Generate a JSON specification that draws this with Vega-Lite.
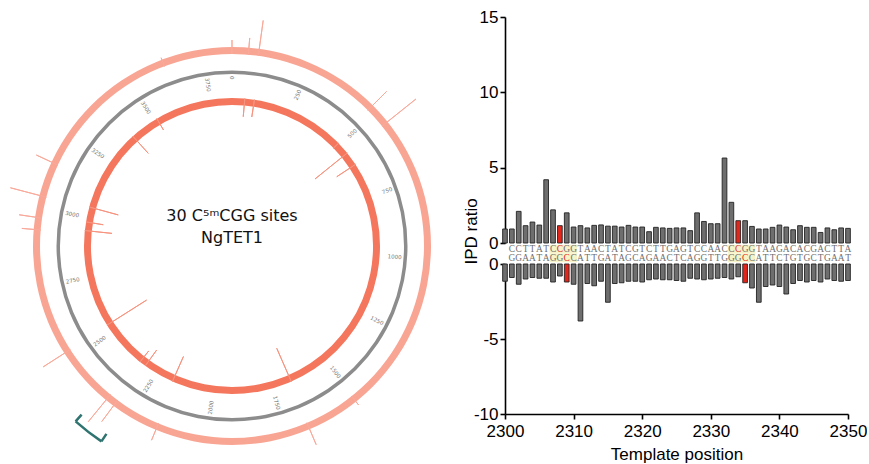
{
  "$schema": "https://vega.github.io/schema/vega-lite/v6.json",
  "padding": {"left": 8, "top": 8, "right": 0, "bottom": 2},
  "bounds": "flush",
  "spacing": 50,
  "config": {
    "view": {"stroke": null},
    "axis": {"domainColor": "#000", "domainWidth": 1.6, "tickColor": "#000", "tickWidth": 1.6, "tickSize": 5, "labelFont": "Liberation Sans", "labelFontSize": 17, "labelColor": "#000", "titleFont": "Liberation Sans", "titleFontSize": 17, "titleFontWeight": "normal", "titleColor": "#000", "grid": false, "labelPadding": 2}
  },
  "datasets": {
    "ipd": [
      {"pos":2300,"strand":"top","ipd":0.93,"base":"","kind":"n"},
      {"pos":2301,"strand":"top","ipd":0.93,"base":"C","kind":"n"},
      {"pos":2302,"strand":"top","ipd":2.1,"base":"C","kind":"n"},
      {"pos":2303,"strand":"top","ipd":1.15,"base":"T","kind":"n"},
      {"pos":2304,"strand":"top","ipd":1.39,"base":"T","kind":"n"},
      {"pos":2305,"strand":"top","ipd":1.19,"base":"A","kind":"n"},
      {"pos":2306,"strand":"top","ipd":4.2,"base":"T","kind":"n"},
      {"pos":2307,"strand":"top","ipd":2.2,"base":"C","kind":"s"},
      {"pos":2308,"strand":"top","ipd":1.15,"base":"C","kind":"m"},
      {"pos":2309,"strand":"top","ipd":2.0,"base":"G","kind":"s"},
      {"pos":2310,"strand":"top","ipd":1.06,"base":"G","kind":"s"},
      {"pos":2311,"strand":"top","ipd":1.15,"base":"T","kind":"n"},
      {"pos":2312,"strand":"top","ipd":1.0,"base":"A","kind":"n"},
      {"pos":2313,"strand":"top","ipd":1.17,"base":"A","kind":"n"},
      {"pos":2314,"strand":"top","ipd":1.2,"base":"C","kind":"n"},
      {"pos":2315,"strand":"top","ipd":1.12,"base":"T","kind":"n"},
      {"pos":2316,"strand":"top","ipd":1.12,"base":"A","kind":"n"},
      {"pos":2317,"strand":"top","ipd":1.06,"base":"T","kind":"n"},
      {"pos":2318,"strand":"top","ipd":1.17,"base":"C","kind":"n"},
      {"pos":2319,"strand":"top","ipd":1.06,"base":"G","kind":"n"},
      {"pos":2320,"strand":"top","ipd":1.06,"base":"T","kind":"n"},
      {"pos":2321,"strand":"top","ipd":0.75,"base":"C","kind":"n"},
      {"pos":2322,"strand":"top","ipd":1.04,"base":"T","kind":"n"},
      {"pos":2323,"strand":"top","ipd":1.0,"base":"T","kind":"n"},
      {"pos":2324,"strand":"top","ipd":0.97,"base":"G","kind":"n"},
      {"pos":2325,"strand":"top","ipd":1.0,"base":"A","kind":"n"},
      {"pos":2326,"strand":"top","ipd":1.0,"base":"G","kind":"n"},
      {"pos":2327,"strand":"top","ipd":0.82,"base":"T","kind":"n"},
      {"pos":2328,"strand":"top","ipd":2.0,"base":"C","kind":"n"},
      {"pos":2329,"strand":"top","ipd":1.43,"base":"C","kind":"n"},
      {"pos":2330,"strand":"top","ipd":1.28,"base":"A","kind":"n"},
      {"pos":2331,"strand":"top","ipd":1.28,"base":"A","kind":"n"},
      {"pos":2332,"strand":"top","ipd":5.64,"base":"C","kind":"n"},
      {"pos":2333,"strand":"top","ipd":2.7,"base":"C","kind":"s"},
      {"pos":2334,"strand":"top","ipd":1.48,"base":"C","kind":"m"},
      {"pos":2335,"strand":"top","ipd":1.48,"base":"G","kind":"s"},
      {"pos":2336,"strand":"top","ipd":1.1,"base":"G","kind":"s"},
      {"pos":2337,"strand":"top","ipd":0.93,"base":"T","kind":"n"},
      {"pos":2338,"strand":"top","ipd":0.93,"base":"A","kind":"n"},
      {"pos":2339,"strand":"top","ipd":1.04,"base":"A","kind":"n"},
      {"pos":2340,"strand":"top","ipd":1.19,"base":"G","kind":"n"},
      {"pos":2341,"strand":"top","ipd":1.06,"base":"A","kind":"n"},
      {"pos":2342,"strand":"top","ipd":0.88,"base":"C","kind":"n"},
      {"pos":2343,"strand":"top","ipd":1.15,"base":"A","kind":"n"},
      {"pos":2344,"strand":"top","ipd":1.04,"base":"C","kind":"n"},
      {"pos":2345,"strand":"top","ipd":1.04,"base":"G","kind":"n"},
      {"pos":2346,"strand":"top","ipd":0.7,"base":"A","kind":"n"},
      {"pos":2347,"strand":"top","ipd":1.0,"base":"C","kind":"n"},
      {"pos":2348,"strand":"top","ipd":0.88,"base":"T","kind":"n"},
      {"pos":2349,"strand":"top","ipd":1.0,"base":"T","kind":"n"},
      {"pos":2350,"strand":"top","ipd":0.97,"base":"A","kind":"n"},
      {"pos":2300,"strand":"bottom","ipd":-1.15,"base":"","kind":"n"},
      {"pos":2301,"strand":"bottom","ipd":-0.9,"base":"G","kind":"n"},
      {"pos":2302,"strand":"bottom","ipd":-1.35,"base":"G","kind":"n"},
      {"pos":2303,"strand":"bottom","ipd":-1.0,"base":"A","kind":"n"},
      {"pos":2304,"strand":"bottom","ipd":-0.9,"base":"A","kind":"n"},
      {"pos":2305,"strand":"bottom","ipd":-0.95,"base":"T","kind":"n"},
      {"pos":2306,"strand":"bottom","ipd":-0.95,"base":"A","kind":"n"},
      {"pos":2307,"strand":"bottom","ipd":-1.2,"base":"G","kind":"s"},
      {"pos":2308,"strand":"bottom","ipd":-0.8,"base":"G","kind":"s"},
      {"pos":2309,"strand":"bottom","ipd":-1.2,"base":"C","kind":"m"},
      {"pos":2310,"strand":"bottom","ipd":-1.35,"base":"C","kind":"s"},
      {"pos":2311,"strand":"bottom","ipd":-3.8,"base":"A","kind":"n"},
      {"pos":2312,"strand":"bottom","ipd":-1.3,"base":"T","kind":"n"},
      {"pos":2313,"strand":"bottom","ipd":-1.45,"base":"T","kind":"n"},
      {"pos":2314,"strand":"bottom","ipd":-1.15,"base":"G","kind":"n"},
      {"pos":2315,"strand":"bottom","ipd":-2.55,"base":"A","kind":"n"},
      {"pos":2316,"strand":"bottom","ipd":-1.3,"base":"T","kind":"n"},
      {"pos":2317,"strand":"bottom","ipd":-1.25,"base":"A","kind":"n"},
      {"pos":2318,"strand":"bottom","ipd":-1.15,"base":"G","kind":"n"},
      {"pos":2319,"strand":"bottom","ipd":-1.15,"base":"C","kind":"n"},
      {"pos":2320,"strand":"bottom","ipd":-1.2,"base":"A","kind":"n"},
      {"pos":2321,"strand":"bottom","ipd":-1.05,"base":"G","kind":"n"},
      {"pos":2322,"strand":"bottom","ipd":-1.0,"base":"A","kind":"n"},
      {"pos":2323,"strand":"bottom","ipd":-1.05,"base":"A","kind":"n"},
      {"pos":2324,"strand":"bottom","ipd":-1.05,"base":"C","kind":"n"},
      {"pos":2325,"strand":"bottom","ipd":-1.1,"base":"T","kind":"n"},
      {"pos":2326,"strand":"bottom","ipd":-1.15,"base":"C","kind":"n"},
      {"pos":2327,"strand":"bottom","ipd":-0.95,"base":"A","kind":"n"},
      {"pos":2328,"strand":"bottom","ipd":-1.0,"base":"G","kind":"n"},
      {"pos":2329,"strand":"bottom","ipd":-1.05,"base":"G","kind":"n"},
      {"pos":2330,"strand":"bottom","ipd":-1.0,"base":"T","kind":"n"},
      {"pos":2331,"strand":"bottom","ipd":-0.95,"base":"T","kind":"n"},
      {"pos":2332,"strand":"bottom","ipd":-0.9,"base":"G","kind":"n"},
      {"pos":2333,"strand":"bottom","ipd":-1.0,"base":"G","kind":"s"},
      {"pos":2334,"strand":"bottom","ipd":-0.85,"base":"G","kind":"s"},
      {"pos":2335,"strand":"bottom","ipd":-1.25,"base":"C","kind":"m"},
      {"pos":2336,"strand":"bottom","ipd":-1.6,"base":"C","kind":"s"},
      {"pos":2337,"strand":"bottom","ipd":-2.55,"base":"A","kind":"n"},
      {"pos":2338,"strand":"bottom","ipd":-1.5,"base":"T","kind":"n"},
      {"pos":2339,"strand":"bottom","ipd":-1.4,"base":"T","kind":"n"},
      {"pos":2340,"strand":"bottom","ipd":-1.5,"base":"C","kind":"n"},
      {"pos":2341,"strand":"bottom","ipd":-2.0,"base":"T","kind":"n"},
      {"pos":2342,"strand":"bottom","ipd":-1.3,"base":"G","kind":"n"},
      {"pos":2343,"strand":"bottom","ipd":-1.1,"base":"T","kind":"n"},
      {"pos":2344,"strand":"bottom","ipd":-1.2,"base":"G","kind":"n"},
      {"pos":2345,"strand":"bottom","ipd":-1.1,"base":"C","kind":"n"},
      {"pos":2346,"strand":"bottom","ipd":-1.2,"base":"T","kind":"n"},
      {"pos":2347,"strand":"bottom","ipd":-1.0,"base":"G","kind":"n"},
      {"pos":2348,"strand":"bottom","ipd":-1.1,"base":"A","kind":"n"},
      {"pos":2349,"strand":"bottom","ipd":-1.15,"base":"A","kind":"n"},
      {"pos":2350,"strand":"bottom","ipd":-1.1,"base":"T","kind":"n"}
    ],
    "sites": [
      {"start":2306.5,"end":2310.5,"strand":"top"},
      {"start":2306.5,"end":2310.5,"strand":"bottom"},
      {"start":2332.5,"end":2336.5,"strand":"top"},
      {"start":2332.5,"end":2336.5,"strand":"bottom"}
    ],
    "spikes": [
      {"pos":0,"ring":"outer","ipd":2.0},
      {"pos":52,"ring":"outer","ipd":2.4},
      {"pos":84,"ring":"outer","ipd":5.1},
      {"pos":480,"ring":"outer","ipd":3.8},
      {"pos":548,"ring":"outer","ipd":6.2},
      {"pos":1509,"ring":"outer","ipd":1.6},
      {"pos":1675,"ring":"outer","ipd":3.4},
      {"pos":2160,"ring":"outer","ipd":2.6},
      {"pos":2310,"ring":"outer","ipd":3.8},
      {"pos":2339,"ring":"outer","ipd":5.0},
      {"pos":2532,"ring":"outer","ipd":4.6},
      {"pos":2931,"ring":"outer","ipd":2.7},
      {"pos":2969,"ring":"outer","ipd":3.3},
      {"pos":3037,"ring":"outer","ipd":5.3},
      {"pos":3146,"ring":"outer","ipd":3.4},
      {"pos":3620,"ring":"outer","ipd":1.3},
      {"pos":53,"ring":"inner","ipd":2.6},
      {"pos":93,"ring":"inner","ipd":2.5},
      {"pos":491,"ring":"inner","ipd":1.0},
      {"pos":545,"ring":"inner","ipd":5.9},
      {"pos":603,"ring":"inner","ipd":3.2},
      {"pos":1668,"ring":"inner","ipd":5.2},
      {"pos":2173,"ring":"inner","ipd":3.9},
      {"pos":2303,"ring":"inner","ipd":2.8},
      {"pos":2330,"ring":"inner","ipd":2.0},
      {"pos":2535,"ring":"inner","ipd":6.7},
      {"pos":2944,"ring":"inner","ipd":3.9},
      {"pos":2980,"ring":"inner","ipd":2.5},
      {"pos":3043,"ring":"inner","ipd":4.3},
      {"pos":3391,"ring":"inner","ipd":3.3},
      {"pos":3514,"ring":"inner","ipd":1.9}
    ],
    "ticks": [
      {"pos":0},{"pos":250},{"pos":500},{"pos":750},{"pos":1000},{"pos":1250},{"pos":1500},{"pos":1750},
      {"pos":2000},{"pos":2250},{"pos":2500},{"pos":2750},{"pos":3000},{"pos":3250},{"pos":3500},{"pos":3750}
    ],
    "bracket": [{"start":2280,"end":2365}]
  },
  "hconcat": [
    {
      "width": 446,
      "height": 458,
      "resolve": {"scale": {"radius": "independent", "angle": "independent", "theta": "independent"}},
      "layer": [
        {
          "data": {"values": [{}]},
          "mark": {"type": "arc", "fill": "#F9A594"},
          "encoding": {
            "theta": {"datum": 0, "type": "quantitative", "stack": null, "scale": {"domain": [0, 3840], "range": [0, 6.283185307]}},
            "theta2": {"datum": 3840},
            "radius": {"datum": 0, "type": "quantitative", "scale": {"type": "linear", "zero": false, "domain": [0, 10], "range": [192, 262]}},
            "radius2": {"datum": 1}
          }
        },
        {
          "data": {"name": "spikes"},
          "transform": [{"filter": "datum.ring === 'outer'"}],
          "mark": {"type": "arc", "filled": false, "stroke": "#F9A99A", "strokeWidth": 1},
          "encoding": {
            "theta": {"field": "pos", "type": "quantitative", "stack": null, "scale": {"domain": [0, 3840], "range": [0, 6.283185307]}},
            "theta2": {"field": "pos"},
            "radius": {"field": "ipd", "type": "quantitative", "scale": {"type": "linear", "zero": false, "domain": [0, 10], "range": [192, 262]}},
            "radius2": {"datum": 0}
          }
        },
        {
          "data": {"values": [{}]},
          "mark": {"type": "arc", "fill": "#F4765C"},
          "encoding": {
            "theta": {"datum": 0, "type": "quantitative", "stack": null, "scale": {"domain": [0, 3840], "range": [0, 6.283185307]}},
            "theta2": {"datum": 3840},
            "radius": {"datum": 0, "type": "quantitative", "scale": {"type": "linear", "zero": false, "domain": [0, 10], "range": [148, 78]}},
            "radius2": {"datum": 1}
          }
        },
        {
          "data": {"name": "spikes"},
          "transform": [{"filter": "datum.ring === 'inner'"}],
          "mark": {"type": "arc", "filled": false, "stroke": "#F7937E", "strokeWidth": 1},
          "encoding": {
            "theta": {"field": "pos", "type": "quantitative", "stack": null, "scale": {"domain": [0, 3840], "range": [0, 6.283185307]}},
            "theta2": {"field": "pos"},
            "radius": {"field": "ipd", "type": "quantitative", "scale": {"type": "linear", "zero": false, "domain": [0, 10], "range": [148, 78]}},
            "radius2": {"datum": 0}
          }
        },
        {
          "data": {"values": [{}]},
          "mark": {"type": "arc", "fill": "#8C8C8C"},
          "encoding": {
            "theta": {"datum": 0, "type": "quantitative", "stack": null, "scale": {"domain": [0, 3840], "range": [0, 6.283185307]}},
            "theta2": {"datum": 3840},
            "radius": {"datum": 0, "type": "quantitative", "scale": {"type": "linear", "zero": false, "domain": [0, 1], "range": [172, 175.5]}},
            "radius2": {"datum": 1}
          }
        },
        {
          "data": {"name": "ticks"},
          "transform": [{"filter": "datum.pos < 1920"}],
          "mark": {"type": "text", "align": "right", "baseline": "middle", "font": "DejaVu Sans", "fontSize": 5.5, "fill": "#777"},
          "encoding": {
            "theta": {"field": "pos", "type": "quantitative", "stack": null, "scale": {"domain": [0, 3840], "range": [0, 6.283185307]}},
            "radius": {"datum": 0, "type": "quantitative", "scale": {"type": "linear", "zero": false, "domain": [0, 1], "range": [170, 174]}},
            "angle": {"field": "pos", "type": "quantitative", "scale": {"domain": [0, 3840], "range": [-90, 270]}},
            "text": {"field": "pos", "type": "quantitative", "format": "d"}
          }
        },
        {
          "data": {"name": "ticks"},
          "transform": [{"filter": "datum.pos >= 1920"}],
          "mark": {"type": "text", "align": "left", "baseline": "middle", "font": "DejaVu Sans", "fontSize": 5.5, "fill": "#777"},
          "encoding": {
            "theta": {"field": "pos", "type": "quantitative", "stack": null, "scale": {"domain": [0, 3840], "range": [0, 6.283185307]}},
            "radius": {"datum": 0, "type": "quantitative", "scale": {"type": "linear", "zero": false, "domain": [0, 1], "range": [170, 174]}},
            "angle": {"field": "pos", "type": "quantitative", "scale": {"domain": [0, 3840], "range": [-270, 90]}},
            "text": {"field": "pos", "type": "quantitative", "format": "d"}
          }
        },
        {
          "data": {"name": "bracket"},
          "mark": {"type": "arc", "filled": false, "stroke": "#2F7470", "strokeWidth": 2.5},
          "encoding": {
            "theta": {"field": "start", "type": "quantitative", "stack": null, "scale": {"domain": [0, 3840], "range": [0, 6.283185307]}},
            "theta2": {"field": "end"},
            "radius": {"datum": 1, "type": "quantitative", "scale": {"type": "linear", "zero": false, "domain": [0, 1], "range": [226, 235]}},
            "radius2": {"datum": 1}
          }
        },
        {
          "data": {"name": "bracket"},
          "mark": {"type": "arc", "filled": false, "stroke": "#2F7470", "strokeWidth": 2.5},
          "encoding": {
            "theta": {"field": "start", "type": "quantitative", "stack": null, "scale": {"domain": [0, 3840], "range": [0, 6.283185307]}},
            "theta2": {"field": "start"},
            "radius": {"datum": 0, "type": "quantitative", "scale": {"type": "linear", "zero": false, "domain": [0, 1], "range": [226, 235]}},
            "radius2": {"datum": 1}
          }
        },
        {
          "data": {"name": "bracket"},
          "mark": {"type": "arc", "filled": false, "stroke": "#2F7470", "strokeWidth": 2.5},
          "encoding": {
            "theta": {"field": "end", "type": "quantitative", "stack": null, "scale": {"domain": [0, 3840], "range": [0, 6.283185307]}},
            "theta2": {"field": "end"},
            "radius": {"datum": 0, "type": "quantitative", "scale": {"type": "linear", "zero": false, "domain": [0, 1], "range": [226, 235]}},
            "radius2": {"datum": 1}
          }
        },
        {
          "data": {"values": [{}]},
          "mark": {"type": "text", "text": ["30 C⁵ᵐCGG sites", "NgTET1"], "font": "DejaVu Sans", "fontSize": 16, "lineHeight": 22, "align": "center", "baseline": "middle", "dy": -30, "fill": "#111"},
          "encoding": {}
        }
      ]
    },
    {
      "bounds": "flush",
      "spacing": 0,
      "vconcat": [
        {
          "width": 343,
          "height": 226,
          "data": {"name": "ipd"},
          "transform": [{"filter": "datum.strand === 'top'"}],
          "mark": {"type": "bar", "orient": "vertical", "size": 4.7, "stroke": "#222", "strokeWidth": 0.9},
          "encoding": {
            "x": {"field": "pos", "type": "quantitative", "scale": {"domain": [2300, 2350], "nice": false, "padding": 0}, "axis": null},
            "y": {"field": "ipd", "type": "quantitative", "scale": {"domain": [0, 15], "nice": false}, "axis": {"values": [0, 5, 10, 15], "title": null, "labelExpr": "'' + datum.value"}},
            "color": {"field": "kind", "type": "nominal", "scale": {"domain": ["n", "s", "m"], "range": ["#6e6e6e", "#6e6e6e", "#e3261c"]}, "legend": null}
          }
        },
        {
          "width": 343,
          "height": 21,
          "layer": [
            {
              "data": {"name": "sites"},
              "mark": {"type": "rect", "fill": "#F6F3C8"},
              "encoding": {
                "x": {"field": "start", "type": "quantitative", "scale": {"domain": [2300, 2350], "nice": false, "padding": 0}, "axis": null},
                "x2": {"field": "end"},
                "y": {"field": "strand", "type": "nominal", "scale": {"domain": ["top", "bottom"], "paddingInner": 0, "paddingOuter": 0.2}, "axis": {"title": "IPD ratio", "labels": false, "ticks": false, "domain": false, "titleAnchor": "end", "titleAlign": "left", "titlePadding": 25}}
              }
            },
            {
              "data": {"name": "ipd"},
              "transform": [{"filter": "datum.base !== ''"}],
              "mark": {"type": "text", "font": "Liberation Serif", "fontSize": 9.4, "baseline": "middle", "align": "center"},
              "encoding": {
                "x": {"field": "pos", "type": "quantitative"},
                "y": {"field": "strand", "type": "nominal"},
                "text": {"field": "base"},
                "color": {"field": "kind", "type": "nominal", "scale": {"domain": ["n", "s", "m"], "range": ["#333333", "#D6A83A", "#FF6A10"]}, "legend": null}
              }
            }
          ]
        },
        {
          "width": 343,
          "height": 150,
          "data": {"name": "ipd"},
          "transform": [{"filter": "datum.strand === 'bottom'"}],
          "mark": {"type": "bar", "orient": "vertical", "size": 4.7, "stroke": "#222", "strokeWidth": 0.9},
          "encoding": {
            "x": {"field": "pos", "type": "quantitative", "scale": {"domain": [2300, 2350], "nice": false, "padding": 0}, "axis": {"values": [2300, 2310, 2320, 2330, 2340, 2350], "format": "d", "title": "Template position", "labelFlush": false, "labelPadding": 4, "titlePadding": 7}},
            "y": {"field": "ipd", "type": "quantitative", "scale": {"domain": [-10, 0], "nice": false}, "axis": {"values": [0, -5, -10], "title": null, "labelExpr": "'' + datum.value"}},
            "color": {"field": "kind", "type": "nominal", "scale": {"domain": ["n", "s", "m"], "range": ["#6e6e6e", "#6e6e6e", "#e3261c"]}, "legend": null}
          }
        }
      ]
    }
  ]
}
